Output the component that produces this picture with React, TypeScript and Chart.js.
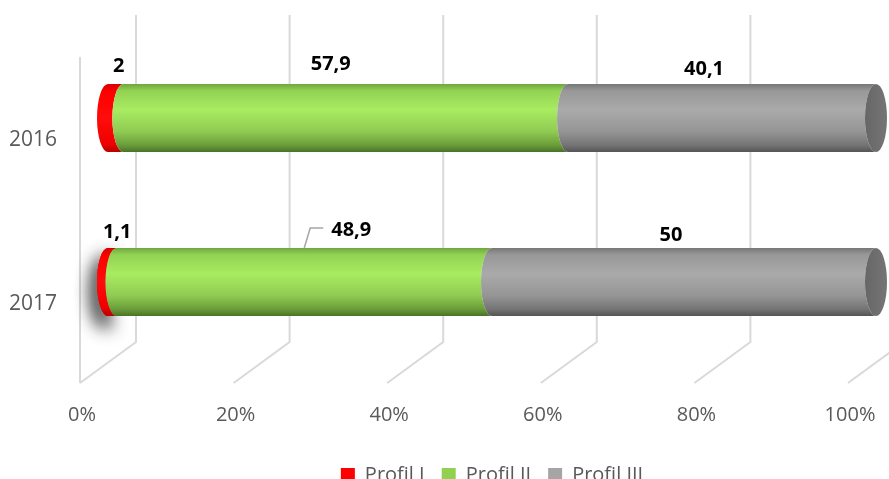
import React, { useEffect, useRef } from 'react';
import { Chart, registerables } from 'chart.js';

Chart.register(...registerables);

// ---- data ----
const categories = ['2016', '2017'];
const seriesNames = ['Profil I', 'Profil II', 'Profil III'];
const profilI = [2, 1.1];
const profilII = [57.9, 48.9];
const profilIII = [40.1, 50];
const xTickValues = [0, 20, 40, 60, 80, 100];

// ---- style ----
const FONT = '"Open Sans", "Noto Sans", sans-serif';
const TEXT = '#595959';
const GRID = '#d9d9d9';
const DEPTH_X = 28;
const solid = ['#ff0000', '#92d050', '#a5a5a5'];
const bodyStops: [number, string][][] = [
  [[0, '#d80000'], [0.12, '#ff0000'], [0.5, '#ff0c0c'], [0.88, '#f00000'], [1, '#b80000']],
  [[0, '#6fa63f'], [0.1, '#92d253'], [0.38, '#a8ec61'], [0.7, '#90cb52'], [0.9, '#6a9c3a'], [1, '#4a7228']],
  [[0, '#777777'], [0.1, '#989898'], [0.38, '#aaaaaa'], [0.7, '#959595'], [0.9, '#747474'], [1, '#555555']],
];
const capColors = ['#e00000', '#7fbb47', '#6e6e6e'];
// label nudges [dx, dy] per series / category
const labelNudge = [
  [[3, 0], [5, 2]],
  [[-15, -2], [47, 0]],
  [[-18, 3], [-13, 5]],
];

function segPath(ctx: CanvasRenderingContext2D, xL: number, xR: number, top: number, bot: number, rx: number) {
  const cy = (top + bot) / 2;
  const ry = (bot - top) / 2;
  ctx.beginPath();
  ctx.moveTo(xL, top);
  ctx.lineTo(xR, top);
  ctx.ellipse(xR, cy, rx, ry, 0, -Math.PI / 2, Math.PI / 2, true);
  ctx.lineTo(xL, bot);
  ctx.ellipse(xL, cy, rx, ry, 0, Math.PI / 2, -Math.PI / 2, false);
  ctx.closePath();
}

const cylinderPlugin = {
  id: 'cylinder3d',
  beforeDatasetsDraw(chart: any) {
    const { ctx, chartArea: a } = chart;
    const x = chart.scales.x;
    ctx.save();
    ctx.strokeStyle = GRID;
    ctx.lineWidth = 2;
    xTickValues.forEach((v) => {
      const px = x.getPixelForValue(v);
      const bx = px + DEPTH_X;
      const fx = px - DEPTH_X;
      ctx.beginPath();
      ctx.moveTo(bx, a.top - 21);
      ctx.lineTo(bx, a.bottom - 22);
      ctx.lineTo(fx, a.bottom + 19);
      ctx.stroke();
    });
    const p0 = x.getPixelForValue(0) - DEPTH_X;
    ctx.beginPath();
    ctx.moveTo(p0, a.top + 21);
    ctx.lineTo(p0, a.bottom + 19);
    ctx.stroke();
    ctx.restore();
  },
  beforeDatasetDraw() {
    return false;
  },
  afterDatasetsDraw(chart: any) {
    const { ctx } = chart;
    const nDs = chart.data.datasets.length;
    const rx = 11;
    for (let j = 0; j < categories.length; j++) {
      for (let i = 0; i < nDs; i++) {
        const el: any = chart.getDatasetMeta(i).data[j];
        const top = el.y - el.height / 2;
        const bot = el.y + el.height / 2;
        const xL = Math.min(el.base, el.x);
        const xR = Math.max(el.base, el.x);
        const g = ctx.createLinearGradient(0, top, 0, bot);
        bodyStops[i].forEach(([o, c]) => g.addColorStop(o, c));
        if (i === 0 && j === 1) {
          // soft glow shadow around the thin first segment
          for (let k = 0; k < 2; k++) {
            ctx.save();
            ctx.shadowColor = 'rgba(0,0,0,0.9)';
            ctx.shadowBlur = 18;
            ctx.shadowOffsetX = -3;
            ctx.shadowOffsetY = 10;
            segPath(ctx, xL, xR, top, bot, rx);
            ctx.fillStyle = g;
            ctx.fill();
            ctx.restore();
          }
        }
        segPath(ctx, xL, xR, top, bot, rx);
        ctx.fillStyle = g;
        ctx.fill();
        if (i === nDs - 1) {
          const cg = ctx.createLinearGradient(el.x - rx, 0, el.x + rx, 0);
          cg.addColorStop(0, '#666666');
          cg.addColorStop(0.5, capColors[i]);
          cg.addColorStop(1, '#757575');
          ctx.beginPath();
          ctx.ellipse(el.x, el.y, rx, el.height / 2, 0, 0, Math.PI * 2);
          ctx.fillStyle = cg;
          ctx.fill();
        }
      }
    }
    // data labels
    ctx.save();
    ctx.font = `bold 20px ${FONT}`;
    ctx.fillStyle = '#000000';
    ctx.textAlign = 'center';
    ctx.textBaseline = 'middle';
    for (let i = 0; i < nDs; i++) {
      const meta = chart.getDatasetMeta(i);
      meta.data.forEach((el: any, j: number) => {
        const v = chart.data.datasets[i].data[j];
        const text = String(v).replace('.', ',');
        const top = el.y - el.height / 2;
        const cx = (el.base + el.x) / 2;
        const [dx, dy] = labelNudge[i][j];
        const lx = cx + dx;
        const ly = top - 18 + dy;
        ctx.fillText(text, lx, ly);
        if (Math.abs(dx) > 30) {
          const w = ctx.measureText(text).width;
          ctx.save();
          ctx.strokeStyle = '#a6a6a6';
          ctx.lineWidth = 1.5;
          ctx.beginPath();
          ctx.moveTo(cx, top);
          ctx.lineTo(cx + 6, ly - 2);
          ctx.lineTo(lx - w / 2 - 8, ly - 2);
          ctx.stroke();
          ctx.restore();
        }
      });
    }
    ctx.restore();
  },
};

function zeroPad(scale: any) {
  scale.paddingLeft = 0;
  scale.paddingRight = 0;
  scale.paddingTop = 0;
  scale.paddingBottom = 0;
}

export default function App() {
  const ref = useRef<HTMLCanvasElement | null>(null);
  useEffect(() => {
    if (!ref.current) return;
    const chart = new Chart(ref.current, {
      type: 'bar',
      data: {
        labels: categories,
        datasets: [
          { label: seriesNames[0], data: profilI, backgroundColor: solid[0], barThickness: 68 },
          { label: seriesNames[1], data: profilII, backgroundColor: solid[1], barThickness: 68 },
          { label: seriesNames[2], data: profilIII, backgroundColor: solid[2], barThickness: 68 },
        ],
      },
      options: {
        indexAxis: 'y',
        responsive: false,
        animation: false,
        layout: { padding: { left: 0, right: 13, top: 36, bottom: -16 } },
        scales: {
          x: {
            type: 'linear',
            stacked: true,
            min: 0,
            max: 100,
            afterBuildTicks: (scale: any) => {
              scale.ticks = xTickValues.map((v) => ({ value: v }));
            },
            afterFit: (scale: any) => {
              scale.height = 84;
              zeroPad(scale);
            },
            grid: { display: false, drawTicks: false },
            border: { display: false },
            ticks: {
              padding: 39,
              labelOffset: -26,
              color: TEXT,
              font: { family: FONT, size: 20 },
              maxRotation: 0,
              autoSkip: false,
              callback: (v: any) => `${v}%`,
            },
          },
          y: {
            type: 'category',
            stacked: true,
            afterFit: (scale: any) => {
              scale.width = 108;
              zeroPad(scale);
            },
            grid: { display: false, drawTicks: false },
            border: { display: false },
            ticks: {
              padding: 51,
              labelOffset: 22,
              color: TEXT,
              font: { family: FONT, size: 21 },
            },
          },
        },
        plugins: {
          tooltip: { enabled: false },
          legend: {
            position: 'bottom',
            fullSize: false,
            labels: {
              boxWidth: 14,
              boxHeight: 14,
              padding: 17,
              color: TEXT,
              font: { family: FONT, size: 20 },
            },
          },
        },
      },
      plugins: [cylinderPlugin],
    } as any);
    return () => chart.destroy();
  }, []);
  return (
    <div style={{ position: 'absolute', left: 0, top: 0, width: 889, height: 479, background: '#ffffff' }}>
      <canvas ref={ref} width={889} height={479} />
    </div>
  );
}
